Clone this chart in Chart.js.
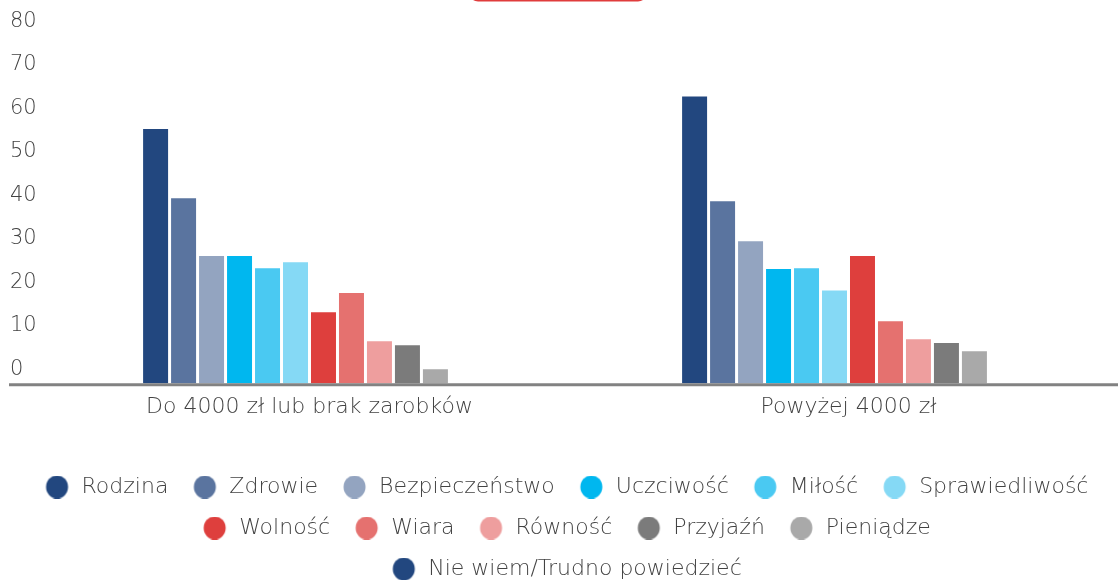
<!DOCTYPE html>
<html lang="pl">
<head>
<meta charset="utf-8">
<script src="https://cdn.jsdelivr.net/npm/chart.js@4.4.1/dist/chart.umd.min.js"></script>
<style>
  html, body { margin: 0; padding: 0; background: #fff; }
  #wrap { width: 1118px; height: 580px; position: relative; }
</style>
</head>
<body>
<div id="wrap"><canvas id="valuesChart"></canvas></div>
<script>
// income groups on the x axis
const categories = ['Do 4000 zł lub brak zarobków', 'Powyżej 4000 zł'];

// answers, one bar per answer in each group
const seriesNames = [
  'Rodzina', 'Zdrowie', 'Bezpieczeństwo', 'Uczciwość', 'Miłość', 'Sprawiedliwość',
  'Wolność', 'Wiara', 'Równość', 'Przyjaźń', 'Pieniądze', 'Nie wiem/Trudno powiedzieć'
];

// % of answers per group, same order as seriesNames
const upTo4000 = [58.5, 42.6, 29.3, 29.3, 26.5, 27.9, 16.4, 20.8, 9.7, 8.8, 3.3, 0];
const over4000 = [66.0, 41.9, 32.7, 26.3, 26.5, 21.4, 29.3, 14.3, 10.2, 9.3, 7.4, 0];

const yTicks = [0, 10, 20, 30, 40, 50, 60, 70, 80];

const seriesColors = [
  '#22477f', '#5a749f', '#93a4c0', '#00b7ef', '#4ac9f2', '#85d9f5',
  '#de3f3d', '#e5716f', '#ee9e9e', '#7b7b7b', '#a9a9a9', '#22477f'
];

const textColor = '#424242';
const fontFamily = "'DejaVu Sans', sans-serif";

// legend marker: a dot placed inside a wider transparent box, so the
// gaps before the dot and before the text can be set separately
function legendDot(color) {
  const c = document.createElement('canvas');
  c.width = 31;
  c.height = 23;
  const g = c.getContext('2d');
  g.fillStyle = color;
  g.beginPath();
  g.ellipse(17.5, 11.5, 11, 11.5, 0, 0, Math.PI * 2);
  g.fill();
  return c;
}

const datasets = seriesNames.map((name, i) => ({
  label: name,
  data: [upTo4000[i], over4000[i]],
  backgroundColor: seriesColors[i],
  pointStyle: legendDot(seriesColors[i]),
  borderWidth: 0,
  categoryPercentage: 0.623,
  barPercentage: 0.893
}));

// grey base line under the bars, running under the y labels too
const baseLine = {
  id: 'baseLine',
  afterDatasetsDraw(chart) {
    const { ctx, scales: { y } } = chart;
    const yPos = y.getPixelForValue(0) + 1.3;
    ctx.save();
    ctx.strokeStyle = '#828282';
    ctx.lineWidth = 3;
    ctx.beginPath();
    ctx.moveTo(9, yPos);
    ctx.lineTo(chart.width, yPos);
    ctx.stroke();
    ctx.restore();
  }
};

// bottom edge of the red header tab
const headerTab = {
  id: 'headerTab',
  afterDraw(chart) {
    const ctx = chart.ctx;
    ctx.save();
    ctx.fillStyle = '#e03c3c';
    ctx.beginPath();
    ctx.roundRect(469, -20, 178, 21.5, 9);
    ctx.fill();
    ctx.restore();
  }
};

new Chart(document.getElementById('valuesChart'), {
  type: 'bar',
  data: { labels: categories, datasets: datasets },
  plugins: [baseLine, headerTab],
  options: {
    responsive: true,
    maintainAspectRatio: false,
    animation: false,
    layout: { padding: { top: 35.5, left: 10, right: 0, bottom: -10 } },
    scales: {
      x: {
        grid: { display: false, drawTicks: false },
        border: { display: false },
        ticks: {
          color: textColor,
          padding: 11,
          font: { family: fontFamily, size: 22, weight: 200 }
        },
        afterFit(scale) { scale.height = 73.5; }
      },
      y: {
        min: 0,
        max: 80,
        grid: { display: false, drawTicks: false },
        border: { display: false },
        afterBuildTicks(scale) { scale.ticks = yTicks.map(v => ({ value: v })); },
        afterFit(scale) { scale.width = 30; },
        ticks: {
          color: textColor,
          crossAlign: 'far',
          labelOffset: -14,
          padding: 0,
          font: { family: fontFamily, size: 21, weight: 200 }
        }
      }
    },
    plugins: {
      tooltip: { enabled: false },
      legend: {
        position: 'bottom',
        labels: {
          usePointStyle: true,
          pointStyleWidth: 31,
          padding: 19,
          color: textColor,
          font: { family: fontFamily, size: 22, weight: 200 }
        }
      }
    }
  }
});
</script>
</body>
</html>
